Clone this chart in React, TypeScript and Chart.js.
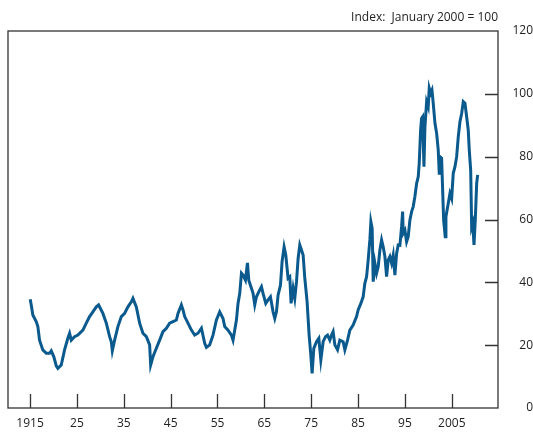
import React, { useEffect, useRef } from "react";
import { Chart, registerables } from "chart.js";

Chart.register(...registerables);

const years: number[] = [
  1915.04, 1915.26, 1915.6, 1916.32, 1916.67, 1917.03, 1917.73, 1918.46, 1919.16, 1919.53,
  1920.08, 1920.6, 1920.94, 1921.66, 1922.37, 1923.07, 1923.44, 1923.8, 1924.5, 1925.21,
  1926.28, 1927.0, 1927.71, 1928.41, 1929.14, 1929.63, 1930.55, 1931.28, 1931.98, 1932.34,
  1932.56, 1933.05, 1933.75, 1934.48, 1935.18, 1935.89, 1936.61, 1936.96, 1937.68, 1938.39,
  1939.09, 1939.82, 1940.52, 1940.74, 1941.23, 1941.95, 1942.66, 1943.36, 1944.09, 1944.79,
  1945.5, 1946.23, 1946.57, 1947.29, 1947.64, 1948.0, 1948.7, 1949.43, 1950.13, 1950.84,
  1951.57, 1952.27, 1952.63, 1953.34, 1954.04, 1954.77, 1955.47, 1956.18, 1956.54, 1957.25,
  1957.97, 1958.31, 1959.04, 1959.38, 1959.75, 1960.11, 1960.45, 1960.96, 1961.39, 1961.67,
  1962.24, 1962.59, 1962.95, 1963.31, 1964.02, 1964.38, 1964.72, 1965.3, 1965.79, 1966.3,
  1966.86, 1967.22, 1967.58, 1967.93, 1968.44, 1968.78, 1969.21, 1969.57, 1970.06, 1970.42,
  1970.7, 1971.13, 1971.49, 1971.86, 1972.2, 1972.56, 1972.92, 1973.27, 1973.63, 1974.12,
  1974.55, 1974.91, 1975.19, 1975.55, 1976.13, 1976.62, 1977.05, 1977.54, 1978.05, 1978.48,
  1978.97, 1979.33, 1979.67, 1980.04, 1980.61, 1981.1, 1981.81, 1982.17, 1982.75, 1983.24,
  1983.94, 1984.67, 1985.01, 1985.59, 1986.08, 1986.44, 1986.81, 1987.15, 1987.51, 1987.73,
  1988.0, 1988.22, 1988.58, 1988.94, 1989.29, 1989.65, 1990.01, 1990.35, 1990.72, 1991.08,
  1991.42, 1991.78, 1992.15, 1992.49, 1992.85, 1993.22, 1993.56, 1993.92, 1994.28, 1994.5,
  1994.62, 1994.99, 1995.35, 1995.69, 1996.05, 1996.42, 1996.76, 1997.12, 1997.49, 1997.83,
  1998.04, 1998.34, 1998.55, 1998.77, 1999.05, 1999.26, 1999.62, 1999.96, 2000.18, 2000.48,
  2000.76, 2001.03, 2001.4, 2001.76, 2002.1, 2002.31, 2002.46, 2002.82, 2003.04, 2003.25,
  2003.59, 2003.74, 2004.24, 2004.6, 2004.96, 2005.3, 2005.67, 2006.03, 2006.37, 2006.73,
  2007.1, 2007.44, 2007.8, 2008.16, 2008.5, 2008.72, 2009.02, 2009.23, 2009.45, 2009.73,
  2010.0, 2010.3, 2010.51,
];

const indexValues: number[] = [
  34.6, 32.8, 29.6, 27.5, 25.9, 21.6, 18.5, 17.4, 17.4, 18.2,
  16.3, 13.4, 12.6, 13.7, 18.5, 22.2, 23.8, 21.6, 22.7, 23.2,
  24.8, 27.0, 29.1, 30.6, 32.2, 32.8, 30.1, 27.0, 22.7, 21.1,
  18.2, 21.6, 25.9, 29.1, 30.1, 32.2, 33.8, 34.9, 32.2, 27.0,
  23.8, 22.7, 20.1, 13.7, 16.3, 19.0, 21.6, 24.3, 25.4, 27.0,
  27.5, 28.0, 30.1, 32.8, 31.2, 29.1, 27.0, 24.8, 23.2, 23.8,
  25.4, 20.6, 19.3, 20.1, 23.2, 28.0, 30.6, 28.5, 25.9, 24.8,
  23.2, 21.6, 28.0, 33.3, 36.5, 42.9, 42.3, 40.7, 46.2, 40.7,
  38.1, 36.5, 32.8, 35.4, 37.6, 38.6, 36.5, 33.3, 34.4, 35.4,
  30.6, 28.5, 30.6, 36.0, 39.1, 46.6, 51.3, 48.7, 41.3, 41.8,
  33.3, 38.1, 34.9, 40.2, 47.6, 51.9, 50.3, 48.7, 41.3, 33.8,
  23.2, 16.9, 11.0, 19.0, 21.1, 22.2, 15.3, 21.1, 22.7, 23.2,
  21.6, 23.2, 24.3, 20.1, 18.5, 21.6, 21.1, 18.5, 21.6, 24.8,
  26.4, 29.1, 31.2, 33.3, 35.4, 39.7, 41.8, 47.1, 53.5, 59.3,
  57.2, 40.2, 46.1, 42.9, 45.0, 50.3, 53.5, 51.3, 48.2, 41.8,
  47.1, 48.2, 46.1, 48.7, 42.3, 49.2, 51.9, 51.8, 57.7, 62.5,
  55.6, 56.6, 52.9, 54.5, 59.8, 62.5, 64.1, 67.3, 71.5, 73.6,
  77.9, 88.5, 92.2, 92.7, 76.8, 89.5, 97.5, 95.9, 101.8, 100.2,
  101.2, 97.0, 90.6, 87.4, 82.1, 74.7, 80.0, 79.5, 69.4, 59.8,
  54.5, 60.9, 65.2, 68.3, 66.7, 74.7, 76.8, 80.0, 86.3, 91.1,
  93.8, 97.5, 97.0, 92.7, 88.5, 82.1, 75.7, 57.7, 58.8, 51.9,
  59.8, 71.5, 74.2,
];

const xTickYears: number[] = [1915, 1925, 1935, 1945, 1955, 1965, 1975, 1985, 1995, 2005];
const xTickLabels: string[] = ["1915", "25", "35", "45", "55", "65", "75", "85", "95", "2005"];
const yTicks: number[] = [0, 20, 40, 60, 80, 100, 120];
const unitLabel = "Index:  January 2000 = 100";

const FONT = "'Open Sans', 'Noto Sans', sans-serif";
const LINE_COLOR = "#0b5a8e";
const AXIS_COLOR = "#333333";

export default function App() {
  const ref = useRef<HTMLCanvasElement | null>(null);

  useEffect(() => {
    if (!ref.current) return;
    const framePlugin = {
      id: "frame",
      afterDraw(chart: any) {
        const { ctx, chartArea } = chart;
        const { left, right, top, bottom } = chartArea;
        const xs = chart.scales.x;
        const ys = chart.scales.y;
        ctx.save();
        ctx.strokeStyle = AXIS_COLOR;
        ctx.lineWidth = 1.3;
        ctx.strokeRect(left, top, right - left, bottom - top);
        ctx.beginPath();
        xTickYears.forEach((yr) => {
          const px = Math.round(xs.getPixelForValue(yr)) + 0.5;
          ctx.moveTo(px, bottom);
          ctx.lineTo(px, bottom - 14);
        });
        yTicks.forEach((v) => {
          if (v === 0 || v === 120) return;
          const py = Math.round(ys.getPixelForValue(v)) + 0.5;
          ctx.moveTo(right, py);
          ctx.lineTo(right - 13, py);
        });
        ctx.stroke();
        ctx.fillStyle = "#222";
        ctx.font = `12px ${FONT}`;
        ctx.textAlign = "right";
        ctx.textBaseline = "middle";
        ctx.fillText(unitLabel, right, 18);
        ctx.restore();
      },
    };

    const chart = new Chart(ref.current, {
      type: "line",
      data: {
        datasets: [
          {
            data: years.map((yr, i) => ({ x: yr, y: indexValues[i] })),
            borderColor: LINE_COLOR,
            borderWidth: 3,
            pointRadius: 0,
            tension: 0,
            fill: false,
          },
        ],
      },
      options: {
        animation: false,
        responsive: false,
        layout: { padding: { left: 8, top: 31, right: 0, bottom: 0 } },
        plugins: { legend: { display: false }, tooltip: { enabled: false } },
        scales: {
          x: {
            type: "linear",
            min: 1910.3,
            max: 2014.85,
            grid: { display: false, drawTicks: false },
            border: { display: false },
            afterBuildTicks: (scale: any) => {
              scale.ticks = xTickYears.map((v) => ({ value: v }));
            },
            afterFit: (scale: any) => {
              scale.height = 24;
            },
            ticks: {
              autoSkip: false,
              maxRotation: 0,
              padding: 8,
              color: "#222",
              font: { family: FONT, size: 12 },
              callback: (v: any) => {
                const i = xTickYears.indexOf(Number(v));
                return i >= 0 ? xTickLabels[i] : "";
              },
            },
          },
          y: {
            position: "right",
            min: 0,
            max: 120,
            grid: { display: false, drawTicks: false },
            border: { display: false },
            afterBuildTicks: (scale: any) => {
              scale.ticks = yTicks.map((v) => ({ value: v }));
            },
            afterFit: (scale: any) => {
              scale.width = 35;
            },
            ticks: {
              padding: 11,
              crossAlign: "far",
              color: "#222",
              font: { family: FONT, size: 12 },
            },
          },
        },
      },
      plugins: [framePlugin],
    } as any);
    return () => chart.destroy();
  }, []);

  return (
    <div style={{ position: "fixed", left: 0, top: 0, width: 533, height: 432, background: "#fff" }}>
      <canvas ref={ref} width={533} height={432} style={{ display: "block" }} />
    </div>
  );
}
